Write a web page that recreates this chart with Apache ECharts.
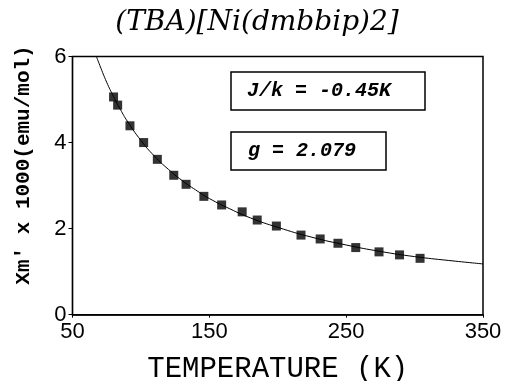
<!DOCTYPE html>
<html>
<head>
<meta charset="utf-8">
<script src="https://cdn.jsdelivr.net/npm/echarts@6/dist/echarts.min.js"></script>
<style>
html,body{margin:0;padding:0;background:#fff;}
#chart{width:506px;height:381px;}
</style>
</head>
<body>
<div id="chart"></div>
<script>
// Measured data (temperature in K, susceptibility x 1000 emu/mol)
var measuredT = [80, 83, 92, 102, 112, 124, 133, 146, 159, 174, 185, 199, 217, 231, 244, 257, 274, 289, 304];
var measuredChi = [5.06, 4.87, 4.39, 4.00, 3.61, 3.24, 3.03, 2.75, 2.55, 2.39, 2.20, 2.06, 1.85, 1.76, 1.66, 1.56, 1.46, 1.39, 1.31];
// Fitted curve
var fitT = [67.5, 70, 75, 80, 85, 90, 100, 110, 120, 130, 140, 150, 165, 180, 200, 225, 250, 275, 300, 325, 350];
var fitChi = [6.0, 5.79, 5.4, 5.07, 4.77, 4.5, 4.05, 3.68, 3.38, 3.12, 2.9, 2.7, 2.46, 2.25, 2.03, 1.8, 1.62, 1.47, 1.35, 1.26, 1.18];
var xTicks = [50, 150, 250, 350];
var yTicks = [0, 2, 4, 6];
var titleText = '(TBA)[Ni(dmbbip)2]';
var xName = 'TEMPERATURE (K)';
var yName = "Xm' x 1000(emu/mol)";
var note1 = 'J/k = -0.45K';
var note2 = 'g = 2.079';

function pairs(a, b) { return a.map(function (v, i) { return [v, b[i]]; }); }

var chart = echarts.init(document.getElementById('chart'), null, {renderer: 'canvas'});
chart.setOption({
  backgroundColor: '#fff',
  animation: false,
  grid: {left: 72.5, right: 23, top: 56.5, bottom: 66.3, show: true, borderColor: '#000', borderWidth: 1.5, backgroundColor: 'transparent', containLabel: false, outerBoundsMode: 'none'},
  xAxis: {
    type: 'value', min: 50, max: 350, interval: 50,
    name: xName, nameLocation: 'middle', nameGap: 40,
    nameTextStyle: {fontFamily: 'Liberation Mono', fontSize: 29, color: '#000'},
    axisLine: {lineStyle: {color: '#000', width: 1.5}},
    axisTick: {show: true, length: 3, inside: false, customValues: xTicks, lineStyle: {color: '#000'}},
    axisLabel: {customValues: xTicks, fontFamily: 'Liberation Sans', fontSize: 22, color: '#000', margin: 6},
    splitLine: {show: false}
  },
  yAxis: {
    type: 'value', min: 0, max: 6, interval: 2,
    axisLine: {show: true, lineStyle: {color: '#000', width: 1.2}},
    axisTick: {show: true, length: 4, customValues: yTicks, lineStyle: {color: '#000'}},
    axisLabel: {customValues: yTicks, fontFamily: 'Liberation Sans', fontSize: 22, color: '#000', margin: 6},
    splitLine: {show: false}
  },
  series: [
    {
      type: 'line', data: pairs(fitT, fitChi), smooth: true, showSymbol: false, symbol: 'none',
      lineStyle: {color: '#000', width: 1}, z: 2
    },
    {
      type: 'scatter', data: pairs(measuredT, measuredChi), symbol: 'rect', symbolSize: 9,
      itemStyle: {color: '#000'}, z: 3
    }
  ],
  graphic: [
    {type: 'text', x: 257, y: 23, style: {text: titleText, font: 'italic 28px "DejaVu Serif"', fill: '#000', textAlign: 'center', textVerticalAlign: 'middle'}},
    {type: 'text', x: 24, y: 165, rotation: Math.PI / 2, style: {text: yName, font: 'bold 21px "Liberation Mono"', fill: '#000', textAlign: 'center', textVerticalAlign: 'middle'}},
    {type: 'rect', shape: {x: 231, y: 72, width: 194, height: 38}, style: {fill: '#fff', stroke: '#000', lineWidth: 1.5}, z: 10},
    {type: 'text', x: 247, y: 91, z: 11, style: {text: note1, font: 'italic bold 20px "Liberation Mono"', fill: '#000', textAlign: 'left', textVerticalAlign: 'middle'}},
    {type: 'rect', shape: {x: 231, y: 132, width: 155, height: 38}, style: {fill: '#fff', stroke: '#000', lineWidth: 1.5}, z: 10},
    {type: 'text', x: 248, y: 151, z: 11, style: {text: note2, font: 'italic bold 20px "Liberation Mono"', fill: '#000', textAlign: 'left', textVerticalAlign: 'middle'}}
  ]
});
</script>
</body>
</html>
